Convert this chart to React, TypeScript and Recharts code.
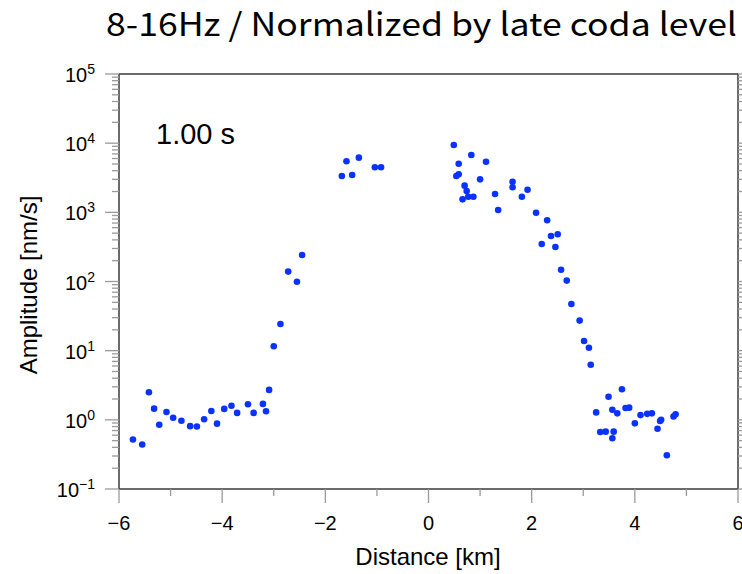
import React from "react";
import { ScatterChart, Scatter, XAxis, YAxis } from "recharts";

// distance [km] / amplitude [nm/s]
const distWest = [
  -5.73, -5.55, -5.42, -5.32, -5.22, -5.08, -4.95, -4.79, -4.62, -4.49, -4.35,
  -4.21, -4.1, -3.96, -3.82, -3.71, -3.5, -3.39, -3.21, -3.15, -3.09, -3.0,
  -2.87, -2.72, -2.55, -2.45, -1.68, -1.59, -1.48, -1.35, -1.04, -0.92,
];
const ampWest = [
  0.52, 0.44, 2.5, 1.45, 0.85, 1.3, 1.07, 0.97, 0.81, 0.8, 1.02,
  1.34, 0.88, 1.44, 1.6, 1.26, 1.68, 1.26, 1.7, 1.33, 2.71, 11.6,
  24.3, 139, 99, 242, 3350, 5470, 3470, 6170, 4480, 4480,
];
const distEast = [
  0.49, 0.54, 0.585, 0.585, 0.66, 0.7, 0.74, 0.77, 0.83, 0.87, 1.0, 1.115,
  1.29, 1.35, 1.63, 1.63, 1.81, 1.92, 2.085, 2.195, 2.3, 2.375, 2.46, 2.505,
  2.57, 2.68, 2.77, 2.93, 3.015, 3.11, 3.145, 3.25, 3.33, 3.435, 3.49, 3.564,
  3.564, 3.59, 3.66, 3.75, 3.82, 3.89, 4.0, 4.11, 4.24, 4.33, 4.44, 4.49,
  4.51, 4.62, 4.75, 4.79,
];
const ampEast = [
  9420, 3350, 3550, 5050, 1540, 2430, 2030, 1680, 6750, 1680, 3000, 5400,
  1840, 1080, 2770, 2300, 1680, 2120, 988, 348, 767, 455, 315, 481,
  148, 103, 47.3, 27.2, 13.8, 11.0, 6.27, 1.28, 0.667, 0.675, 2.16, 1.4,
  0.541, 0.675, 1.24, 2.77, 1.48, 1.5, 0.89, 1.17, 1.22, 1.24, 0.745, 0.96,
  1.0, 0.307, 1.12, 1.2,
];

const xTicks = [-6, -5, -4, -3, -2, -1, 0, 1, 2, 3, 4, 5, 6];
const yDecades = [0.1, 1, 10, 100, 1000, 10000, 100000];
const yMinorSteps = [2, 3, 4, 5, 6, 7, 8, 9];

const points = [
  ...distWest.map((x, i) => ({ x, y: ampWest[i] })),
  ...distEast.map((x, i) => ({ x, y: ampEast[i] })),
];

const yTicks = yDecades.flatMap((d, i) =>
  i < yDecades.length - 1 ? [d, ...yMinorSteps.map(m => m * d)] : [d]
);

const W = 742;
const H = 574;
const FRAME = "#3a3a3a";
const TICK = "#9a9a9a";
const DOT = "#0a32ff";
const FONT = "'Liberation Sans', Arial, Helvetica, sans-serif";

const fmt = (v: number) => (v < 0 ? `\u2212${-v}` : `${v}`);

function XTick({ x, y, payload, side }: any) {
  const v = payload.value;
  const major = v % 2 === 0;
  const dir = side === "bottom" ? 1 : -1;
  return (
    <g>
      <line x1={x} x2={x} y1={y} y2={y + dir * (major ? 14 : 7)}
            stroke={TICK} strokeWidth={1.3} />
      {side === "bottom" && major && (
        <text x={x} y={y + 41} textAnchor="middle" fontSize={20}
              fontFamily={FONT} fill="#000">{fmt(v)}</text>
      )}
    </g>
  );
}

function YTick({ x, y, payload, side }: any) {
  const v = payload.value;
  const exp = Math.log10(v);
  const major = Math.abs(exp - Math.round(exp)) < 1e-6;
  const dir = side === "left" ? -1 : 1;
  return (
    <g>
      <line x1={x} x2={x + dir * (major ? 14 : 7)} y1={y} y2={y}
            stroke={TICK} strokeWidth={1.3} />
      {side === "left" && major && (
        <text x={x - 24} y={y + 8} textAnchor="end" fontSize={20}
              fontFamily={FONT} fill="#000">
          10
          <tspan dy={-8} fontSize={14}>{fmt(Math.round(exp))}</tspan>
        </text>
      )}
    </g>
  );
}

export default function App() {
  return (
    <div style={{ position: "absolute", left: 0, top: 0, width: W, height: H,
                  background: "#fff", overflow: "hidden" }}>
      <ScatterChart width={W} height={H}
                    margin={{ top: 73, right: 3, bottom: 84, left: 118 }}>
        <XAxis xAxisId="b" type="number" dataKey="x" domain={[-6, 6]}
               ticks={xTicks} interval={0} orientation="bottom" height={1}
               tickSize={0} tickMargin={0} tickLine={false}
               axisLine={{ stroke: FRAME, strokeWidth: 1.5 }}
               tick={(p: any) => <XTick {...p} side="bottom" />} />
        <XAxis xAxisId="t" type="number" domain={[-6, 6]}
               ticks={xTicks} interval={0} orientation="top" height={1}
               tickSize={0} tickMargin={0} tickLine={false}
               axisLine={{ stroke: FRAME, strokeWidth: 1.5 }}
               tick={(p: any) => <XTick {...p} side="top" />} />
        <YAxis yAxisId="l" type="number" dataKey="y" scale="log"
               domain={[0.1, 100000]} allowDataOverflow ticks={yTicks}
               interval={0} orientation="left" width={1}
               tickSize={0} tickMargin={0} tickLine={false}
               axisLine={{ stroke: FRAME, strokeWidth: 1.5 }}
               tick={(p: any) => <YTick {...p} side="left" />} />
        <YAxis yAxisId="r" type="number" scale="log"
               domain={[0.1, 100000]} allowDataOverflow ticks={yTicks}
               interval={0} orientation="right" width={1}
               tickSize={0} tickMargin={0} tickLine={false}
               axisLine={{ stroke: FRAME, strokeWidth: 1.5 }}
               tick={(p: any) => <YTick {...p} side="right" />} />
        <Scatter xAxisId="b" yAxisId="l" data={points} fill={DOT}
                 isAnimationActive={false}
                 shape={(p: any) => <circle cx={p.cx} cy={p.cy} r={3.3} fill={DOT} />} />
      </ScatterChart>

      <svg width={W} height={H}
           style={{ position: "absolute", left: 0, top: 0, pointerEvents: "none" }}>
        <text x={106} y={36} fontSize={32} textLength={631}
              lengthAdjust="spacingAndGlyphs"
              fontFamily="'Noto Sans CJK JP', 'Noto Sans', sans-serif" fill="#000">
          8-16Hz / Normalized by late coda level
        </text>
        <text x={156} y={144} fontSize={29} fontFamily={FONT} fill="#000">1.00 s</text>
        <text x={428} y={565} fontSize={24} textAnchor="middle"
              fontFamily={FONT} fill="#000">Distance [km]</text>
        <text transform="translate(37 285) rotate(-90)" fontSize={24}
              textAnchor="middle" fontFamily={FONT} fill="#000">Amplitude [nm/s]</text>
      </svg>
    </div>
  );
}
